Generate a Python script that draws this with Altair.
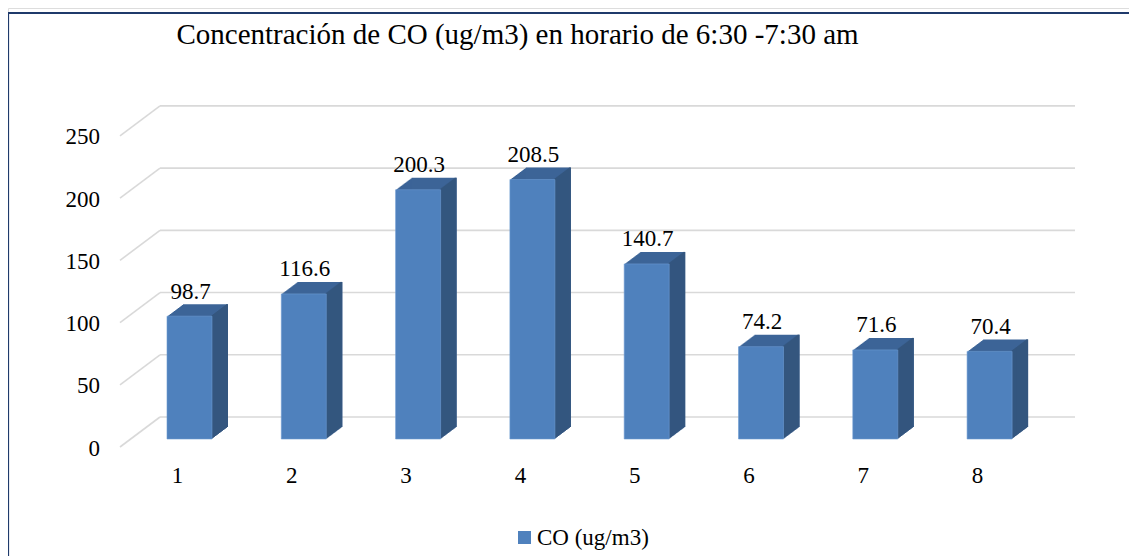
import altair as alt
import pandas as pd

categories = ["1", "2", "3", "4", "5", "6", "7", "8"]
values = [98.7, 116.6, 200.3, 208.5, 140.7, 74.2, 71.6, 70.4]
tick_values = [0, 50, 100, 150, 200, 250]
series_name = "CO (ug/m3)"
title_text = "Concentración de CO (ug/m3) en horario de 6:30 -7:30 am"

FONT = "Liberation Serif"
FRONT = "#4F81BD"
SIDE = "#34567F"
TOP = "#3C6497"
GRID = "#D9D9D9"
BORDER = "#1F3A6B"

df = pd.DataFrame({"cat": categories, "val": values, "serie": [series_name] * len(values)})
ticks = pd.DataFrame({"v": tick_values})

W, H = 1121, 548
xs = alt.Scale(domain=categories, range=[124.35, 1038.75], paddingInner=0.6063, paddingOuter=0.30315)
ys = alt.Scale(domain=[0, 250], range=[431, 119.9], nice=False, zero=True)

X = alt.X("cat:N", scale=xs, axis=None, sort=categories)
Y = alt.Y("val:Q", scale=ys, axis=None)

base = alt.Chart(df)
tbase = alt.Chart(ticks)

layers = []

# back-wall gridlines
layers.append(
    tbase.mark_rule(color=GRID, strokeWidth=1.6, yOffset=-22, y2Offset=-22).encode(
        y=alt.Y("v:Q", scale=ys, axis=None), y2="v:Q", x=alt.value(152), x2=alt.value(1067)
    )
)
# side-wall slanted gridlines
layers.append(
    tbase.mark_rule(color=GRID, strokeWidth=1.6, yOffset=8, y2Offset=-22).encode(
        y=alt.Y("v:Q", scale=ys, axis=None), y2="v:Q", x=alt.value(112), x2=alt.value(152)
    )
)

DEPTH = 16
# extrusion (top face colour)
for k in range(1, DEPTH + 1):
    dy = -0.75 * k
    layers.append(
        base.mark_bar(color=TOP, xOffset=k, x2Offset=k, yOffset=dy, y2Offset=dy).encode(x=X, y=Y)
    )
# side face
for k in range(1, DEPTH + 1):
    dy = -0.75 * k
    layers.append(
        base.mark_bar(color=SIDE, width=2, xOffset=22.5 + k - 1, yOffset=dy, y2Offset=dy).encode(x=X, y=Y)
    )
# front face
layers.append(
    base.mark_bar(stroke="#6C9BD2", strokeWidth=0.6).encode(
        x=X,
        y=Y,
        color=alt.Color(
            "serie:N",
            scale=alt.Scale(range=[FRONT]),
            legend=alt.Legend(
                orient="none",
                legendX=505,
                legendY=518,
                title=None,
                symbolType="square",
                symbolSize=169,
                symbolStrokeWidth=0,
                labelFont=FONT,
                labelFontSize=23,
                labelColor="black",
                labelOffset=1,
                padding=0,
            ),
        ),
    )
)
# data labels
layers.append(
    base.mark_text(font=FONT, fontSize=23, baseline="alphabetic", dy=-17.5, dx=1, color="black").encode(
        x=X, y=Y, text=alt.Text("val:Q", format=".1f")
    )
)
# y tick labels
layers.append(
    tbase.mark_text(font=FONT, fontSize=23, align="right", baseline="middle", dy=9.5, color="black").encode(
        y=alt.Y("v:Q", scale=ys, axis=None), x=alt.value(92), text="v:Q"
    )
)
# x category labels
layers.append(
    base.mark_text(font=FONT, fontSize=23, baseline="middle", xOffset=-12, color="black").encode(
        x=X, y=alt.value(468), text="cat:N"
    )
)
# title
layers.append(
    alt.Chart(pd.DataFrame({"t": [title_text]})).mark_text(
        font=FONT, fontSize=29, baseline="alphabetic", align="center", color="black"
    ).encode(x=alt.value(509.5), y=alt.value(36), text="t:N")
)
# border (top and left edges)
layers.append(
    alt.Chart(pd.DataFrame({"a": [0]})).mark_rule(color=BORDER, strokeWidth=2.2).encode(
        x=alt.value(0), x2=alt.value(W), y=alt.value(5)
    )
)
layers.append(
    alt.Chart(pd.DataFrame({"a": [0]})).mark_rule(color=BORDER, strokeWidth=2.2).encode(
        x=alt.value(0), y=alt.value(5), y2=alt.value(H)
    )
)

chart = (
    alt.layer(*layers)
    .properties(width=W, height=H, padding=0, autosize=alt.AutoSizeParams(type="none"))
    .configure_view(stroke=None)
    .configure(background="white")
)

chart.save("out.html", embed_options={"renderer": "svg", "actions": False})
